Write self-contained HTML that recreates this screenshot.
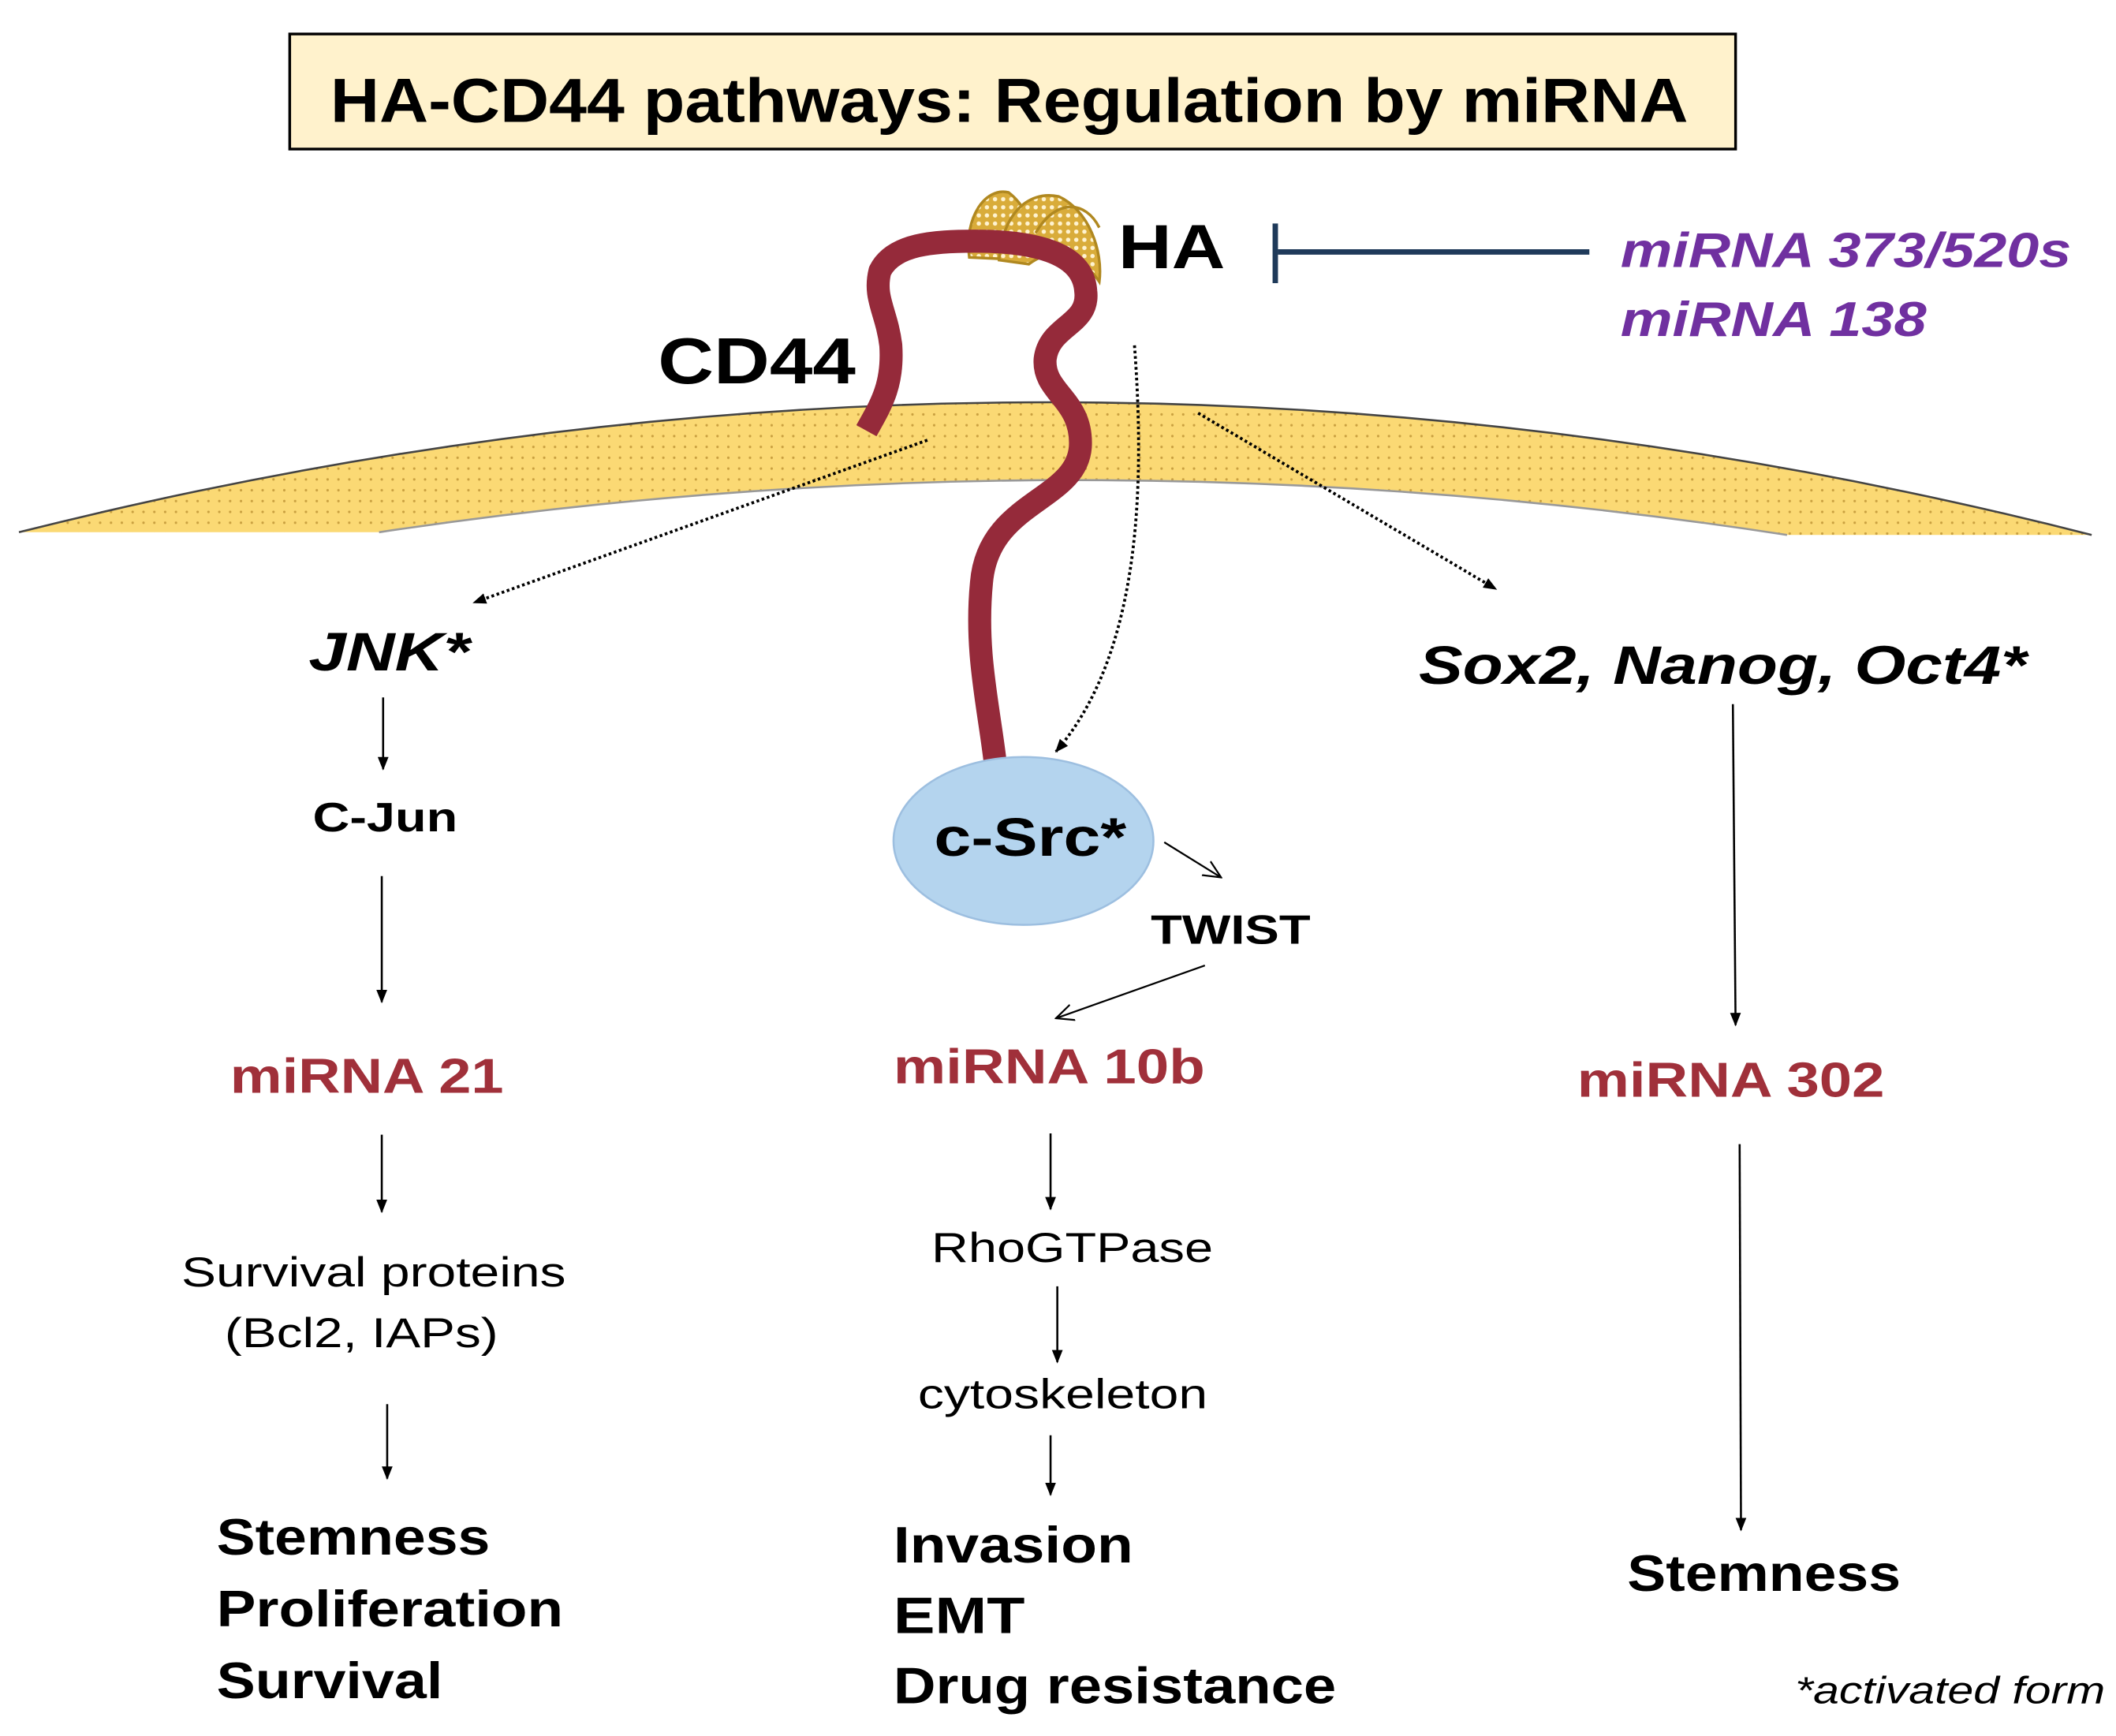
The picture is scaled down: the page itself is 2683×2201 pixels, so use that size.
<!DOCTYPE html>
<html><head><meta charset="utf-8"><style>
html,body{margin:0;padding:0;background:#fff;}
svg{display:block;}
text{font-family:"Liberation Sans",Arial,sans-serif;}
</style></head><body>
<svg width="2683" height="2201" viewBox="0 0 1563 1282" xmlns="http://www.w3.org/2000/svg">
<defs>
<pattern id="dots" width="8" height="8" patternUnits="userSpaceOnUse">
<rect width="8" height="8" fill="#fbd974"/><circle cx="2" cy="2" r="0.9" fill="#c9a040"/>
</pattern>
<pattern id="lat" width="6" height="6" patternUnits="userSpaceOnUse">
<rect width="6" height="6" fill="#d9ac3a"/><circle cx="3" cy="3" r="1.6" fill="#fff3d0"/>
</pattern>
<marker id="ah" markerWidth="10" markerHeight="10" refX="9" refY="5" orient="auto" markerUnits="userSpaceOnUse">
<path d="M0,1 L10,5 L0,9 Z" fill="#000"/></marker>
<marker id="oa" markerWidth="14" markerHeight="14" refX="13" refY="7" orient="auto" markerUnits="userSpaceOnUse">
<path d="M0,1 L13,7 L0,13" fill="none" stroke="#000" stroke-width="1.3"/></marker>
</defs>

<rect x="214" y="25" width="1068" height="85" fill="#fff2cc" stroke="#000" stroke-width="2"/>
<text x="244" y="90" font-size="46" font-weight="bold" textLength="1003" lengthAdjust="spacingAndGlyphs">HA-CD44 pathways: Regulation by miRNA</text>

<path d="M14,393 Q780,200 1545,395 L1320,395 Q800,315 280,393 Z" fill="url(#dots)"/>
<path d="M14,393 Q780,200 1545,395" fill="none" stroke="#444" stroke-width="1.5"/>
<path d="M280,393 Q800,315 1320,395" fill="none" stroke="#999" stroke-width="1.5"/>

<path d="M716,190 C712,160 728,138 745,142 C762,155 765,178 760,192 Z" fill="url(#lat)" stroke="#b08820" stroke-width="2"/>
<path d="M738,192 C740,160 758,140 782,145 C804,155 815,185 812,208 C800,190 780,180 760,195 Z" fill="url(#lat)" stroke="#b08820" stroke-width="2"/>
<path d="M765,172 C780,146 802,148 812,168" fill="none" stroke="#b08820" stroke-width="2"/>

<path d="M640,318 C650,300 660,285 658,255 C655,230 645,220 650,200 C660,180 690,178 720,178 C760,178 800,185 802,215 C805,240 775,240 772,265 C770,290 800,295 798,330 C795,370 730,370 725,430 C720,480 730,520 735,562" fill="none" stroke="#952a3a" stroke-width="17" stroke-linejoin="round"/>

<text x="826" y="198" font-size="46" font-weight="bold" textLength="79" lengthAdjust="spacingAndGlyphs">HA</text>
<line x1="944" y1="186" x2="1174" y2="186" stroke="#1f3a5a" stroke-width="4"/>
<line x1="942" y1="165" x2="942" y2="209" stroke="#1f3a5a" stroke-width="4"/>
<text x="1197" y="197" font-size="36" font-weight="bold" font-style="italic" fill="#7030a0" textLength="333" lengthAdjust="spacingAndGlyphs">miRNA 373/520s</text>
<text x="1197" y="248" font-size="36" font-weight="bold" font-style="italic" fill="#7030a0" textLength="226" lengthAdjust="spacingAndGlyphs">miRNA 138</text>
<text x="486" y="283" font-size="48" font-weight="bold" textLength="146" lengthAdjust="spacingAndGlyphs">CD44</text>

<line x1="685" y1="325" x2="350" y2="445" stroke="#000" stroke-width="2.2" stroke-dasharray="2,2" marker-end="url(#ah)"/>
<line x1="885" y1="305" x2="1105" y2="435" stroke="#000" stroke-width="2.2" stroke-dasharray="2,2" marker-end="url(#ah)"/>
<path d="M838,255 C845,350 845,480 780,555" fill="none" stroke="#000" stroke-width="2.2" stroke-dasharray="2,2" marker-end="url(#ah)"/>

<text x="228" y="495" font-size="40" font-weight="bold" font-style="italic" textLength="119" lengthAdjust="spacingAndGlyphs">JNK*</text>
<text x="1048" y="505" font-size="40" font-weight="bold" font-style="italic" textLength="449" lengthAdjust="spacingAndGlyphs">Sox2, Nanog, Oct4*</text>

<ellipse cx="756" cy="621" rx="96" ry="62" fill="#b4d4ee" stroke="#9dbfe0" stroke-width="1.5"/>
<text x="690" y="632" font-size="40" font-weight="bold" textLength="142" lengthAdjust="spacingAndGlyphs">c-Src*</text>
<line x1="860" y1="622" x2="902" y2="648" stroke="#000" stroke-width="1.3" marker-end="url(#oa)"/>
<text x="850" y="697" font-size="30" font-weight="bold" textLength="118" lengthAdjust="spacingAndGlyphs">TWIST</text>
<line x1="890" y1="713" x2="780" y2="752" stroke="#000" stroke-width="1.3" marker-end="url(#oa)"/>

<line x1="283" y1="515" x2="283" y2="568" stroke="#000" stroke-width="1.5" marker-end="url(#ah)"/>
<text x="231" y="614" font-size="30" font-weight="bold" textLength="107" lengthAdjust="spacingAndGlyphs">C-Jun</text>
<line x1="282" y1="647" x2="282" y2="740" stroke="#000" stroke-width="1.5" marker-end="url(#ah)"/>
<text x="170" y="807" font-size="36" font-weight="bold" fill="#a0303a" textLength="202" lengthAdjust="spacingAndGlyphs">miRNA 21</text>
<line x1="282" y1="838" x2="282" y2="895" stroke="#000" stroke-width="1.5" marker-end="url(#ah)"/>
<text x="134" y="950" font-size="31" textLength="284" lengthAdjust="spacingAndGlyphs">Survival proteins</text>
<text x="166" y="995" font-size="31" textLength="202" lengthAdjust="spacingAndGlyphs">(Bcl2, IAPs)</text>
<line x1="286" y1="1037" x2="286" y2="1092" stroke="#000" stroke-width="1.5" marker-end="url(#ah)"/>
<text x="160" y="1148" font-size="38" font-weight="bold" textLength="202" lengthAdjust="spacingAndGlyphs">Stemness</text>
<text x="160" y="1201" font-size="38" font-weight="bold" textLength="256" lengthAdjust="spacingAndGlyphs">Proliferation</text>
<text x="160" y="1254" font-size="38" font-weight="bold" textLength="167" lengthAdjust="spacingAndGlyphs">Survival</text>

<text x="660" y="800" font-size="36" font-weight="bold" fill="#a0303a" textLength="230" lengthAdjust="spacingAndGlyphs">miRNA 10b</text>
<line x1="776" y1="837" x2="776" y2="893" stroke="#000" stroke-width="1.5" marker-end="url(#ah)"/>
<text x="688" y="932" font-size="31" textLength="208" lengthAdjust="spacingAndGlyphs">RhoGTPase</text>
<line x1="781" y1="950" x2="781" y2="1006" stroke="#000" stroke-width="1.5" marker-end="url(#ah)"/>
<text x="678" y="1040" font-size="31" textLength="214" lengthAdjust="spacingAndGlyphs">cytoskeleton</text>
<line x1="776" y1="1060" x2="776" y2="1104" stroke="#000" stroke-width="1.5" marker-end="url(#ah)"/>
<text x="660" y="1154" font-size="38" font-weight="bold" textLength="177" lengthAdjust="spacingAndGlyphs">Invasion</text>
<text x="660" y="1206" font-size="38" font-weight="bold" textLength="97" lengthAdjust="spacingAndGlyphs">EMT</text>
<text x="660" y="1258" font-size="38" font-weight="bold" textLength="327" lengthAdjust="spacingAndGlyphs">Drug resistance</text>

<line x1="1280" y1="520" x2="1282" y2="757" stroke="#000" stroke-width="1.5" marker-end="url(#ah)"/>
<text x="1165" y="810" font-size="36" font-weight="bold" fill="#a0303a" textLength="227" lengthAdjust="spacingAndGlyphs">miRNA 302</text>
<line x1="1285" y1="845" x2="1286" y2="1130" stroke="#000" stroke-width="1.5" marker-end="url(#ah)"/>
<text x="1202" y="1175" font-size="38" font-weight="bold" textLength="202" lengthAdjust="spacingAndGlyphs">Stemness</text>
<text x="1326" y="1258" font-size="28" font-style="italic" textLength="229" lengthAdjust="spacingAndGlyphs">*activated form</text>
</svg>
</body></html>
